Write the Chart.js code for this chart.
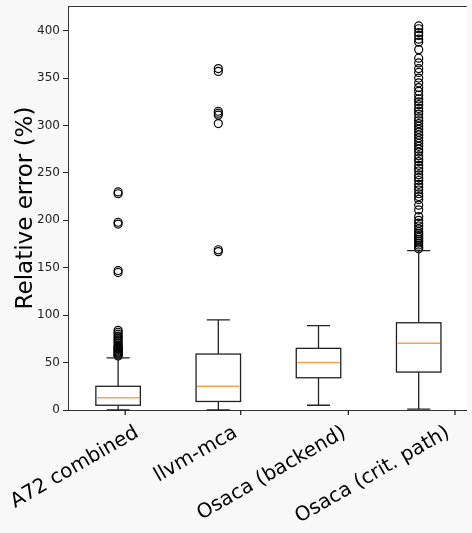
<!DOCTYPE html>
<html>
<head>
<meta charset="utf-8">
<script src="https://cdn.jsdelivr.net/npm/chart.js@4/dist/chart.umd.min.js"></script>
<style>
  html, body { margin: 0; padding: 0; background: #f8f8f8; }
  #wrap { width: 472px; height: 533px; }
</style>
</head>
<body>
<div id="wrap"><canvas id="box-chart" width="472" height="533"></canvas></div>
<script>
// Data boxplot
const categories = ['A72 combined', 'llvm-mca', 'Osaca (backend)', 'Osaca (crit. path)'];
const positions = [1, 2, 3, 4];
const tickPositions = [1.071, 2.224, 3.298, 4.362];
const labelAnchors = [1.19, 2.175, 3.259, 4.293];
const yTicks = [0, 50, 100, 150, 200, 250, 300, 350, 400];

const whiskerLow = [0, 0, 5, 1];
const q1 = [5, 9, 34, 40];
const median = [13, 25, 50, 70.5];
const q3 = [25, 59, 65, 92];
const whiskerHigh = [55, 95, 89, 168];

const outliersA72 = [57, 58, 59, 60, 61, 62, 63, 64, 65, 66, 67, 68, 70, 72, 74, 76, 78, 80, 82, 84, 145, 147, 196, 198, 228, 230];
const outliersLlvm = [167, 169, 302, 311, 313, 315, 357, 360];
const outliersBackend = [];
const outliersCrit = [170, 172, 174, 176, 178, 180, 182, 184, 186, 188, 191, 194, 197, 200, 204, 211, 216,
    222, 225, 228, 232, 235, 238, 242, 245, 248, 252, 255, 258, 262, 265, 268, 272, 275, 278, 281, 284,
    287, 290, 293, 296, 299, 302, 305, 308, 312, 315, 318, 322, 325, 328, 332, 336, 340, 345, 350, 356,
    360, 366, 371, 380, 388, 391, 395, 398, 402, 405];

document.addEventListener('DOMContentLoaded', function() {
    setupChart();
});

// Gabungkan outlier jadi titik scatter
function buildOutlierPoints() {
    const groups = [outliersA72, outliersLlvm, outliersBackend, outliersCrit];
    const pts = [];
    groups.forEach((vals, i) => {
        vals.forEach(v => pts.push({ x: positions[i], y: v }));
    });
    return pts;
}

// Plugin untuk latar, kotak boxplot dan tanda tick sumbu x
const boxPlugin = {
    id: 'boxPlugin',
    beforeDraw(chart) {
        const ctx = chart.ctx;
        const a = chart.chartArea;
        ctx.save();
        ctx.fillStyle = '#f8f8f8';
        ctx.fillRect(0, 0, chart.width, chart.height);
        ctx.fillStyle = '#ffffff';
        ctx.fillRect(a.left, a.top, a.right - a.left, a.bottom - a.top);
        ctx.restore();
    },
    afterDatasetsDraw(chart) {
        const ctx = chart.ctx;
        const xs = chart.scales.x;
        const ys = chart.scales.y;
        const a = chart.chartArea;
        const boxHalf = 0.222;
        const capHalf = 0.115;

        ctx.save();
        ctx.lineWidth = 1.3;
        ctx.strokeStyle = '#222';
        positions.forEach((p, i) => {
            const xl = xs.getPixelForValue(p - boxHalf);
            const xr = xs.getPixelForValue(p + boxHalf);
            const xc = xs.getPixelForValue(p);
            const cl = xs.getPixelForValue(p - capHalf);
            const cr = xs.getPixelForValue(p + capHalf);
            const yq1 = ys.getPixelForValue(q1[i]);
            const yq3 = ys.getPixelForValue(q3[i]);
            const ylo = ys.getPixelForValue(whiskerLow[i]);
            const yhi = ys.getPixelForValue(whiskerHigh[i]);
            const ymed = ys.getPixelForValue(median[i]);

            // kumis
            ctx.beginPath();
            ctx.moveTo(xc, yq1); ctx.lineTo(xc, ylo);
            ctx.moveTo(xc, yq3); ctx.lineTo(xc, yhi);
            ctx.moveTo(cl, ylo); ctx.lineTo(cr, ylo);
            ctx.moveTo(cl, yhi); ctx.lineTo(cr, yhi);
            ctx.stroke();

            // kotak
            ctx.strokeRect(xl, yq3, xr - xl, yq1 - yq3);

            // median
            ctx.save();
            ctx.strokeStyle = '#ffa050';
            ctx.lineWidth = 1.5;
            ctx.beginPath();
            ctx.moveTo(xl + 1, ymed); ctx.lineTo(xr - 1, ymed);
            ctx.stroke();
            ctx.restore();
        });

        // garis atas
        ctx.strokeStyle = '#333';
        ctx.lineWidth = 1;
        ctx.beginPath();
        ctx.moveTo(a.left, a.top + 0.5);
        ctx.lineTo(a.right, a.top + 0.5);
        ctx.stroke();

        // tanda tick sumbu x
        ctx.strokeStyle = '#222';
        ctx.lineWidth = 1.3;
        ctx.beginPath();
        tickPositions.forEach(t => {
            const x = xs.getPixelForValue(t);
            ctx.moveTo(x, a.bottom);
            ctx.lineTo(x, a.bottom + 5);
        });
        ctx.stroke();
        ctx.restore();
    }
};

function setupChart() {
    const ctx = document.getElementById('box-chart').getContext('2d');
    new Chart(ctx, {
        type: 'scatter',
        data: {
            datasets: [{
                label: 'outliers',
                data: buildOutlierPoints(),
                pointStyle: 'circle',
                pointRadius: 4,
                pointBorderWidth: 1.2,
                pointBackgroundColor: 'rgba(0,0,0,0)',
                pointBorderColor: '#000'
            }]
        },
        options: {
            responsive: false,
            animation: false,
            events: [],
            layout: { padding: { top: 6, right: 0, left: 0, bottom: 0 } },
            plugins: {
                legend: { display: false },
                tooltip: { enabled: false }
            },
            scales: {
                x: {
                    type: 'linear',
                    min: 0.5,
                    max: 4.48,
                    afterBuildTicks: function(scale) {
                        scale.ticks = labelAnchors.map(v => ({ value: v }));
                    },
                    afterFit: function(scale) {
                        scale.height = 123;
                        scale.paddingLeft = 0;
                        scale.paddingRight = 0;
                    },
                    grid: {
                        drawOnChartArea: false,
                        drawTicks: true,
                        tickLength: 5,
                        tickColor: 'rgba(0,0,0,0)'
                    },
                    border: { color: '#333', width: 1 },
                    ticks: {
                        autoSkip: false,
                        maxRotation: 30,
                        minRotation: 30,
                        padding: 6,
                        color: '#000',
                        font: { family: 'DejaVu Sans', size: 20 },
                        callback: function(value) {
                            const idx = labelAnchors.indexOf(value);
                            return idx >= 0 ? categories[idx] : '';
                        }
                    }
                },
                y: {
                    min: 0,
                    max: 426,
                    afterBuildTicks: function(scale) {
                        scale.ticks = yTicks.map(v => ({ value: v }));
                    },
                    afterFit: function(scale) {
                        scale.width = 68;
                        scale.paddingTop = 0;
                        scale.paddingBottom = 0;
                    },
                    grid: {
                        drawOnChartArea: false,
                        drawTicks: true,
                        tickLength: 5,
                        tickColor: '#222'
                    },
                    border: { color: '#333', width: 1 },
                    ticks: {
                        padding: 3,
                        color: '#222',
                        font: { family: 'DejaVu Sans', size: 12 }
                    },
                    title: {
                        display: true,
                        text: 'Relative error (%)',
                        color: '#000',
                        padding: { top: 12, bottom: 4 },
                        font: { family: 'DejaVu Sans', size: 23 }
                    }
                }
            }
        },
        plugins: [boxPlugin]
    });
}
</script>
</body>
</html>
